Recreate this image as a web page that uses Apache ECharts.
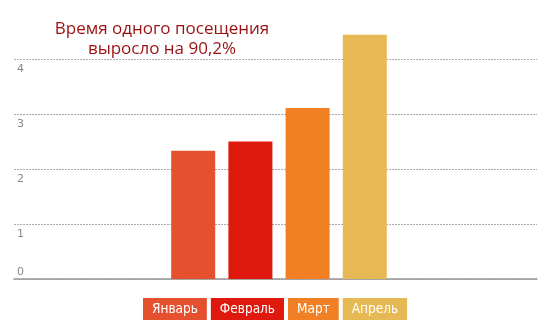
<!DOCTYPE html>
<html>
<head>
    <meta charset="utf-8">
    <title>Время одного посещения</title>
    <style>
        html, body { margin: 0; padding: 0; background: #fff; }
        #chart { width: 555px; height: 336px; }
    </style>
</head>
<body>
    <div id="chart"></div>
    <script src="https://cdn.jsdelivr.net/npm/echarts@6/dist/echarts.min.js"></script>
    <script>
        // данные
        var months = ['Январь', 'Февраль', 'Март', 'Апрель'];
        var values = [2.33, 2.5, 3.11, 4.44];
        var colors = ['#e5512f', '#df190d', '#f08023', '#e6b955'];
        var titleText = 'Время одного посещения\nвыросло на 90,2%';

        var chart = echarts.init(document.getElementById('chart'));

        // столбцы во второй сетке (чуть сдвинуты вправо, как в оригинале)
        var series = months.map(function (m, i) {
            return {
                name: m,
                type: 'bar',
                xAxisIndex: 1,
                yAxisIndex: 1,
                data: [values[i]],
                barWidth: 44,
                barGap: '30%',
                itemStyle: { color: colors[i] }
            };
        });

        var legendData = months.map(function (m, i) {
            return {
                name: m,
                textStyle: { backgroundColor: colors[i] }
            };
        });

        chart.setOption({
            animation: false,
            title: {
                text: titleText,
                left: 157,
                textAlign: 'center',
                top: 14,
                textStyle: {
                    color: '#9a1111',
                    fontFamily: 'Open Sans',
                    fontWeight: 'normal',
                    fontSize: 17,
                    lineHeight: 20
                }
            },
            legend: {
                data: legendData,
                left: 133,
                top: 293,
                icon: 'none',
                itemWidth: 0,
                itemHeight: 22,
                itemGap: -1,
                selectedMode: false,
                textStyle: {
                    color: '#fff',
                    fontFamily: 'Liberation Sans Narrow, DejaVu Sans Condensed, sans-serif',
                    fontSize: 13.5,
                    padding: [4, 9, 3, 9],
                    height: 15,
                    lineHeight: 15
                }
            },
            grid: [
                { left: 14, right: 18, top: 31.5, bottom: 57 },
                { left: 17.5, right: 14.5, top: 31.5, bottom: 57 }
            ],
            xAxis: [
                {
                    type: 'category',
                    gridIndex: 0,
                    data: [''],
                    axisLine: { lineStyle: { color: '#999', width: 1.5 } },
                    axisTick: { show: false },
                    axisLabel: { show: false }
                },
                {
                    type: 'category',
                    gridIndex: 1,
                    data: [''],
                    axisLine: { show: false },
                    axisTick: { show: false },
                    axisLabel: { show: false }
                }
            ],
            yAxis: [
                {
                    type: 'value',
                    gridIndex: 0,
                    min: 0,
                    max: 4.5,
                    interval: 1,
                    axisLine: { show: false },
                    axisTick: { show: false },
                    splitLine: {
                        showMaxLine: false,
                        lineStyle: { color: '#aaa', type: [2, 1] }
                    },
                    axisLabel: {
                        inside: true,
                        margin: 3,
                        showMaxLabel: false,
                        verticalAlign: 'middle',
                        formatter: function (v) {
                            return v === 0 ? '{z|0}' : '{n|' + v + '}';
                        },
                        rich: {
                            n: { color: '#888', fontSize: 11, fontFamily: 'DejaVu Sans', padding: [20, 0, 0, 0] },
                            z: { color: '#888', fontSize: 11, fontFamily: 'DejaVu Sans', padding: [0, 0, 14, 0] }
                        }
                    }
                },
                {
                    type: 'value',
                    gridIndex: 1,
                    min: 0,
                    max: 4.5,
                    interval: 1,
                    show: false,
                    splitLine: { show: false }
                }
            ],
            series: series
        });
    </script>
</body>
</html>
